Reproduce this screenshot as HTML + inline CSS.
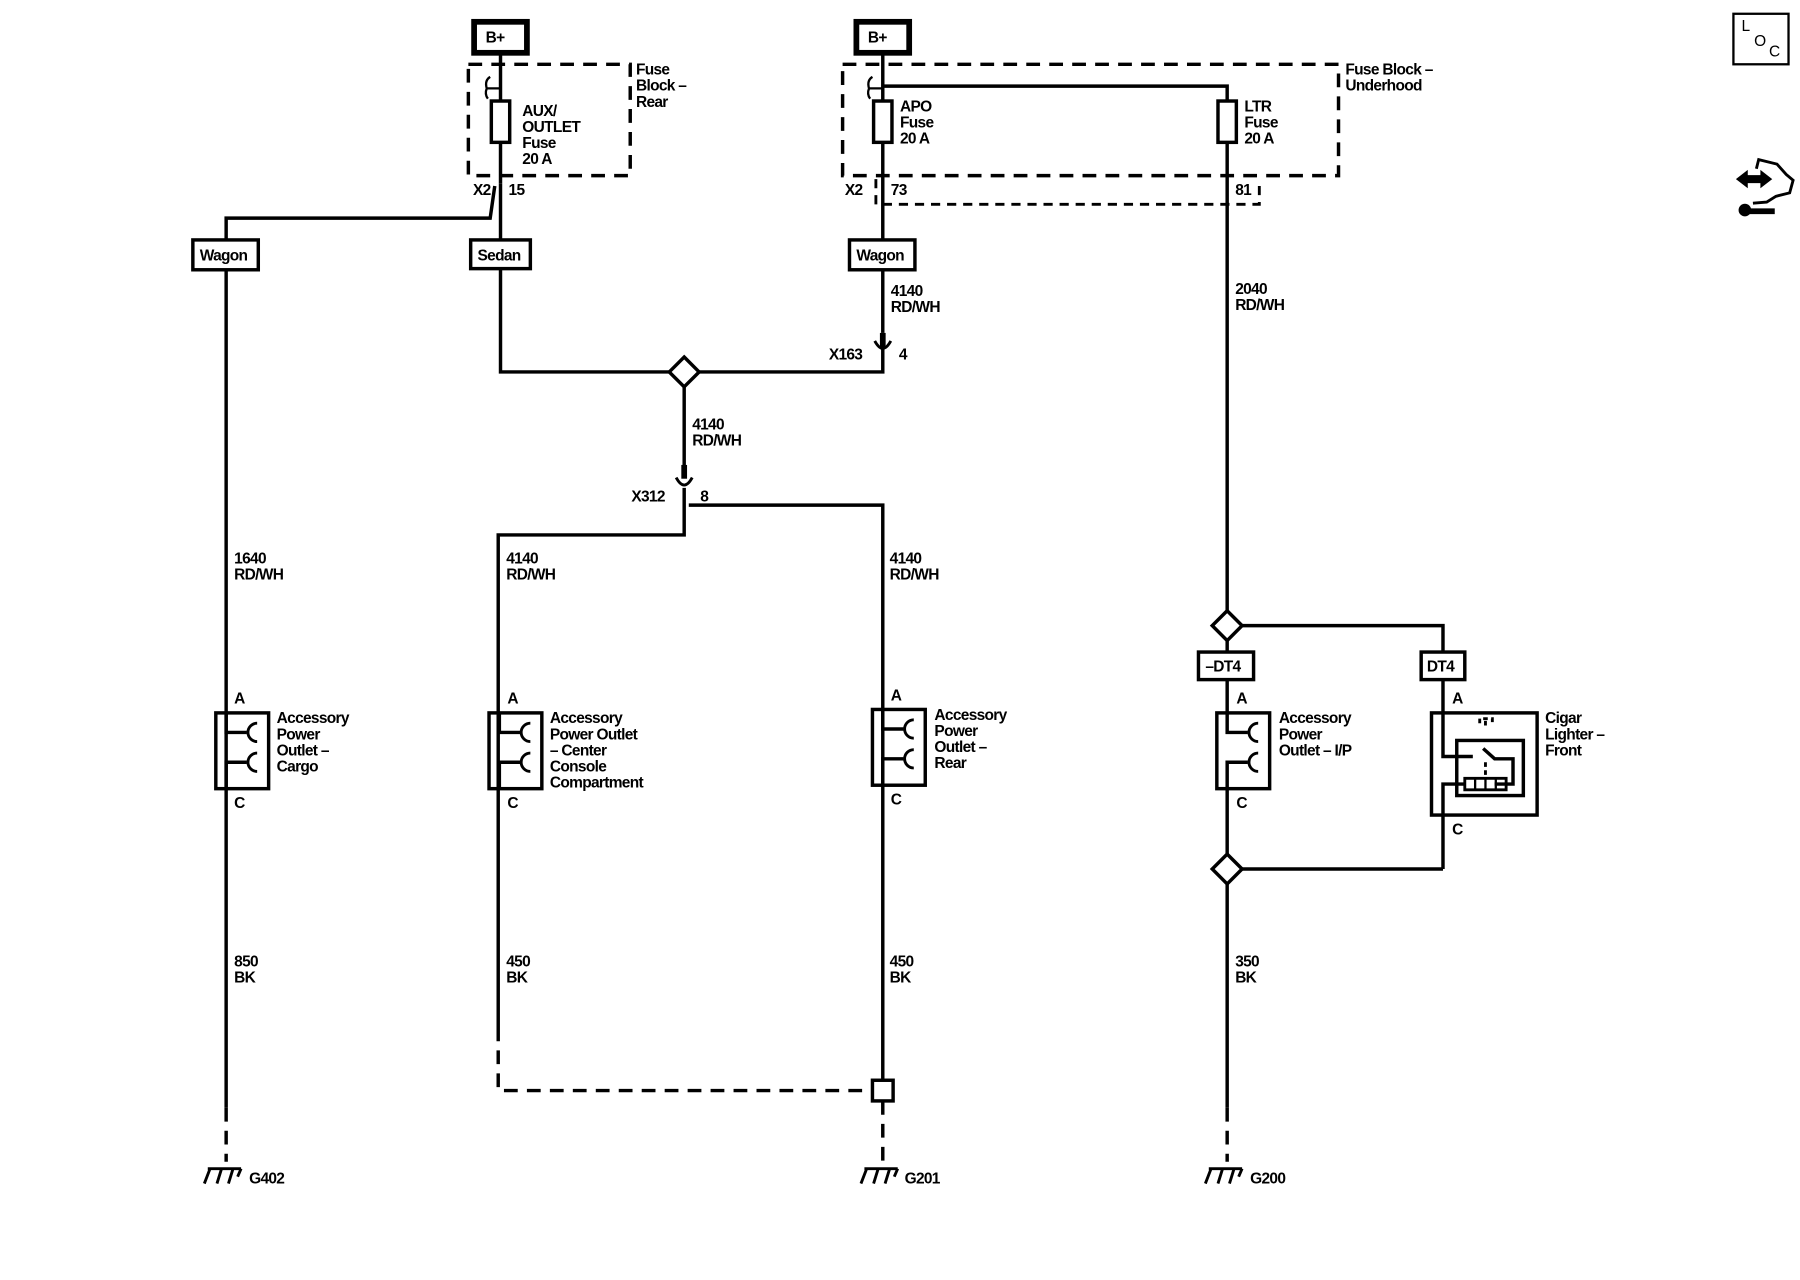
<!DOCTYPE html>
<html><head><meta charset="utf-8"><style>
html,body{margin:0;padding:0;background:#fff;}
svg{display:block;}
text{font-family:"Liberation Sans",sans-serif;font-size:13.5px;font-weight:bold;fill:#000;letter-spacing:-0.6px;}
</style></head><body>
<svg width="1800" height="1280" viewBox="0 0 1568 1115" preserveAspectRatio="none" xmlns="http://www.w3.org/2000/svg">
<rect width="1568" height="1115" fill="#fff"/>
<g stroke="#000" stroke-width="3" fill="none">
<!-- LOC -->
<rect x="1510" y="12" width="48" height="44" stroke-width="2"/>
<!-- left fuse block -->
<rect x="408" y="56" width="141" height="97" stroke-dasharray="12,8"/>
<rect x="413" y="19" width="46" height="27" stroke-width="5"/>
<line x1="436" y1="46" x2="436" y2="160"/>
<rect x="428" y="88" width="16" height="36" fill="#fff"/>
<path d="M436 77 H424 M427 67 Q422 70 424 77 Q422 82 425 86" stroke-width="2"/>
<path d="M431 162 L427 190 H197 V209"/>
<line x1="436" y1="160" x2="436" y2="209"/>
<rect x="410" y="209" width="52" height="25" fill="#fff"/>
<rect x="168" y="209" width="57" height="26" fill="#fff"/>
<line x1="197" y1="235" x2="197" y2="965"/>
<line x1="197" y1="965" x2="197" y2="1012" stroke-dasharray="12,8"/>
<path d="M436 234 V324 H769 V300"/>
<!-- X163 -->
<line x1="769" y1="290" x2="769" y2="302" stroke-width="5"/>
<path d="M762 297 Q769 310 776 297" stroke-width="2.5"/>
<!-- right fuse block -->
<rect x="734" y="56" width="432" height="97" stroke-dasharray="12,8"/>
<rect x="746" y="19" width="46" height="27" stroke-width="5"/>
<line x1="769" y1="46" x2="769" y2="209"/>
<path d="M769 75 H1069 V545"/>
<rect x="761" y="88" width="16" height="36" fill="#fff"/>
<rect x="1061" y="88" width="16" height="36" fill="#fff"/>
<path d="M769 77 H757 M760 67 Q755 70 757 77 Q755 82 758 86" stroke-width="2"/>
<path d="M763 156 V178 H1097 V156" stroke-width="2.5" stroke-dasharray="8,6"/>
<rect x="740" y="209" width="57" height="26" fill="#fff"/>
<line x1="769" y1="235" x2="769" y2="290"/>
<!-- center diamond -->
<path d="M596 311 L609 324 L596 337 L583 324 Z" fill="#fff"/>
<line x1="596" y1="337" x2="596" y2="416"/>
<line x1="596" y1="405" x2="596" y2="417" stroke-width="5"/>
<path d="M589 416 Q596 429 603 416" stroke-width="2.5"/>
<path d="M596 425 V466 H434 V895"/>
<path d="M600 440 H769 V941"/>
<path d="M434 895 V950 H760" stroke-dasharray="12,8"/>
<rect x="760" y="941" width="18" height="18" fill="#fff"/>
<line x1="769" y1="959" x2="769" y2="1012" stroke-dasharray="12,8"/>
<!-- outlets -->
<g id="o1">
<rect x="188" y="621" width="46" height="66"/>
<path d="M197 621 V638 H215 M197 687 V664 H215"/>
<path d="M224 630 A8 8 0 0 0 224 646 M224 656 A8 8 0 0 0 224 672" stroke-width="2.5"/>
</g>
<use href="#o1" x="238"/>
<use href="#o1" x="572" y="-3"/>
<use href="#o1" x="872"/>
<!-- LTR branch -->
<path d="M1069 532 L1082 545 L1069 558 L1056 545 Z" fill="#fff"/>
<path d="M1082 545 H1257 V621"/>
<line x1="1069" y1="558" x2="1069" y2="621"/>
<rect x="1044" y="568" width="48" height="24" fill="#fff"/>
<rect x="1238" y="568" width="38" height="24" fill="#fff"/>
<rect x="1247" y="621" width="92" height="89"/>
<rect x="1269" y="645" width="58" height="48"/>
<path d="M1257 621 V659 H1283 M1292 652 L1302 661 H1318 V683 H1302"/>
<path d="M1257 757 V683 H1276" />
<rect x="1276" y="678" width="36" height="10" stroke-width="2.5"/>
<path d="M1285 678 V688 M1294 678 V688 M1303 678 V688" stroke-width="2"/>
<path d="M1294 664 V678 M1294 628 V635 M1289 630 V626 H1300 V630" stroke-width="2.5" stroke-dasharray="4,3"/>
<line x1="1069" y1="687" x2="1069" y2="744"/>
<path d="M1069 744 L1082 757 L1069 770 L1056 757 Z" fill="#fff"/>
<line x1="1082" y1="757" x2="1257" y2="757"/>
<line x1="1069" y1="770" x2="1069" y2="965"/>
<line x1="1069" y1="965" x2="1069" y2="1012" stroke-dasharray="12,8"/>
<!-- grounds -->
<g id="gnd" stroke-width="2.5"><path d="M181 1018 H210 M183 1018 L178 1031 M193 1018 L189 1031 M203 1018 L199 1031 M210 1018 L207 1025"/></g>
<use href="#gnd" x="572"/>
<use href="#gnd" x="872"/>
<!-- tool icon -->
<path d="M1513 156 L1522 149 V153 H1534 V149 L1543 156 L1534 163 V159 H1522 V163 Z" fill="#000" stroke-width="1"/>
<path d="M1530 147 L1532 139 L1548 143 L1556 152 L1562 157 L1559 168 L1547 171 L1539 176 L1527 177" stroke-width="2.5"/>
<path d="M1518 184 L1546 184" stroke-width="5"/>
<circle cx="1520" cy="183" r="5" fill="#000" stroke-width="1"/>
</g>
<g>
<text x="423" y="37">B+</text>
<text x="756" y="37">B+</text>
<text x="1517" y="27" style="font-weight:normal">L</text>
<text x="1528" y="40" style="font-weight:normal">O</text>
<text x="1541" y="49" style="font-weight:normal">C</text>
<text x="455" y="101">AUX/</text><text x="455" y="115">OUTLET</text><text x="455" y="129">Fuse</text><text x="455" y="143">20 A</text>
<text x="554" y="65">Fuse</text><text x="554" y="79">Block –</text><text x="554" y="93">Rear</text>
<text x="784" y="97">APO</text><text x="784" y="111">Fuse</text><text x="784" y="125">20 A</text>
<text x="1084" y="97">LTR</text><text x="1084" y="111">Fuse</text><text x="1084" y="125">20 A</text>
<text x="1172" y="65">Fuse Block –</text><text x="1172" y="79">Underhood</text>
<text x="412" y="170">X2</text><text x="443" y="170">15</text>
<text x="736" y="170">X2</text><text x="776" y="170">73</text><text x="1076" y="170">81</text>
<text x="174" y="227">Wagon</text><text x="416" y="227">Sedan</text><text x="746" y="227">Wagon</text>
<text x="776" y="258">4140</text><text x="776" y="272">RD/WH</text>
<text x="1076" y="256">2040</text><text x="1076" y="270">RD/WH</text>
<text x="722" y="313">X163</text><text x="783" y="313">4</text>
<text x="603" y="374">4140</text><text x="603" y="388">RD/WH</text>
<text x="550" y="437">X312</text><text x="610" y="437">8</text>
<text x="204" y="491">1640</text><text x="204" y="505">RD/WH</text>
<text x="441" y="491">4140</text><text x="441" y="505">RD/WH</text>
<text x="775" y="491">4140</text><text x="775" y="505">RD/WH</text>
<text x="1050" y="585">–DT4</text><text x="1243" y="585">DT4</text>
<text x="204" y="613">A</text><text x="442" y="613">A</text><text x="776" y="610">A</text><text x="1077" y="613">A</text><text x="1265" y="613">A</text>
<text x="204" y="704">C</text><text x="442" y="704">C</text><text x="776" y="701">C</text><text x="1077" y="704">C</text><text x="1265" y="727">C</text>
<text x="241" y="630">Accessory</text><text x="241" y="644">Power</text><text x="241" y="658">Outlet –</text><text x="241" y="672">Cargo</text>
<text x="479" y="630">Accessory</text><text x="479" y="644">Power Outlet</text><text x="479" y="658">– Center</text><text x="479" y="672">Console</text><text x="479" y="686">Compartment</text>
<text x="814" y="627">Accessory</text><text x="814" y="641">Power</text><text x="814" y="655">Outlet –</text><text x="814" y="669">Rear</text>
<text x="1114" y="630">Accessory</text><text x="1114" y="644">Power</text><text x="1114" y="658">Outlet – I/P</text>
<text x="1346" y="630">Cigar</text><text x="1346" y="644">Lighter –</text><text x="1346" y="658">Front</text>
<text x="204" y="842">850</text><text x="204" y="856">BK</text>
<text x="441" y="842">450</text><text x="441" y="856">BK</text>
<text x="775" y="842">450</text><text x="775" y="856">BK</text>
<text x="1076" y="842">350</text><text x="1076" y="856">BK</text>
<text x="217" y="1031">G402</text><text x="788" y="1031">G201</text><text x="1089" y="1031">G200</text>
</g>
</svg>
</body></html>
